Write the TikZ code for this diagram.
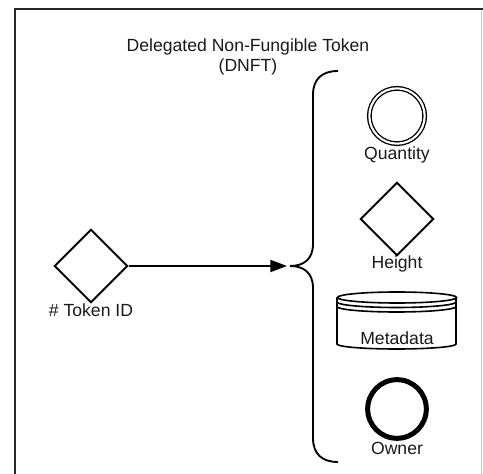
\documentclass[tikz,border=0pt]{standalone}
\usepackage{fontspec}
\setmainfont{Liberation Sans}
\usetikzlibrary{shapes.geometric,arrows.meta}

\begin{document}
\begin{tikzpicture}[x=0.75pt,y=-0.75pt,
    lbl/.style={font=\fontsize{13.2}{15}\selectfont,inner sep=0pt,text=black!90},
    ln/.style={draw=black,line width=1.5pt},
    kite/.style={ln,diamond,fill=white,inner sep=0pt,minimum size=55pt},
    ring/.style={draw=black,circle,fill=white,inner sep=0pt}]
    \useasboundingbox (0,0) rectangle (483,474);
    % frame
    \draw[line width=1.6pt,black!85] (15,476) |- (483,9);
    \draw[line width=0.8pt,black!20] (481.5,10) -- (481.5,474);
    % title
    \node[lbl,align=center] (title) at (248,57) {Delegated Non-Fungible Token\\(DNFT)};
    % token id
    \node[kite] (tid) at (91,266) {};
    \node[lbl] (tidlbl) at (91,310.5) {\# Token ID};
    % brace
    \coordinate (tip) at (290,266);
    \draw[ln,line width=1.4pt] (338,71) .. controls (322,71) and (313,79) .. (313,95) -- (313,244)
        .. controls (313,259) and (304,266) .. (tip)
        .. controls (304,266) and (313,273) .. (313,288) -- (313,438)
        .. controls (313,454) and (322,462) .. (338,462);
    \draw[ln,-{Triangle[length=12.5pt,width=9pt]}] (tid.east) -- ([xshift=-2.25pt]tip);
    % attributes
    \node[ring,line width=1pt,double,double distance=1.6pt,minimum size=41.5pt] (qty) at (397,116) {};
    \node[lbl] (qtylbl) at (397,155) {Quantity};
    \node[kite] (hgt) at (397,219) {};
    \node[lbl] (hgtlbl) at (397,264) {Height};
    \draw[ln,fill=white,line width=1.2pt] (337,297.5) -- (337,344) arc[start angle=180,end angle=0,x radius=59.5,y radius=5]
        -- (456,297.5);
    \draw[ln,line width=1.2pt] (397,297.5) ellipse[x radius=59.5,y radius=5.5];
    \foreach \dy in {4.5,9}
        \draw[ln,line width=1.2pt] (337,297.5+\dy) arc[start angle=180,end angle=0,x radius=59.5,y radius=5.5];
    \node[lbl] (meta) at (397,338.5) {Metadata};
    \node[ring,line width=3.75pt,minimum size=44pt] (own) at (397,409) {};
    \node[lbl] (ownlbl) at (397,448.5) {Owner};
\end{tikzpicture}
\end{document}
